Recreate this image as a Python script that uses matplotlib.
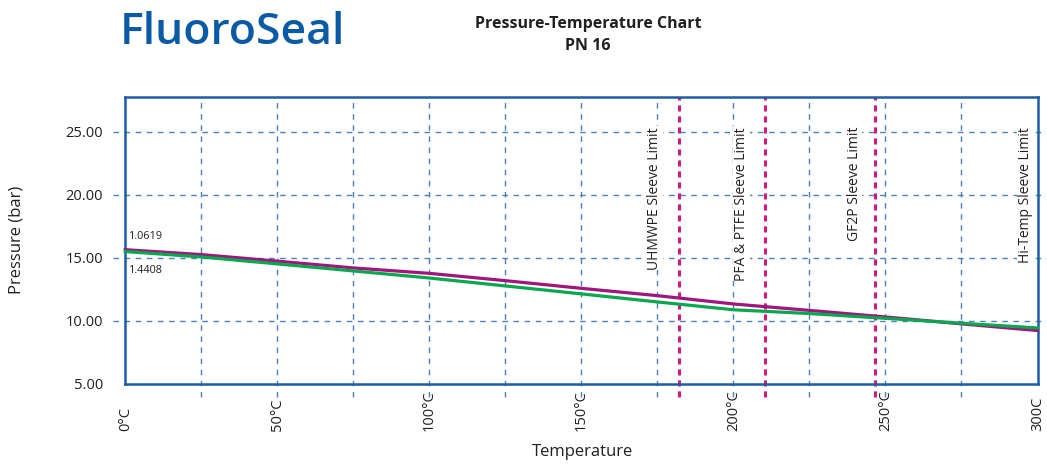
"""FluoroSeal PN 16 pressure-temperature chart."""
import matplotlib
matplotlib.use("Agg")
import matplotlib.pyplot as plt
import matplotlib.transforms as mtrans

# ── data ──────────────────────────────────────────────────────────────────
TEMPS       = [0, 25, 50, 75, 100, 125, 150, 175, 200, 225, 250, 275, 300]
P_MAGENTA   = [15.63, 15.24, 14.72, 14.18, 13.75, 13.17, 12.56, 11.98,
               11.32, 10.81, 10.29, 9.74, 9.21]
P_GREEN     = [15.48, 15.05, 14.50, 13.94, 13.38, 12.75, 12.12, 11.48,
               10.86, 10.56, 10.18, 9.79, 9.42]

LIMIT_TEMPS  = [182.0, 210.5, 246.6]
LIMIT_LABELS = ["UHMWPE Sleeve Limit", "PFA & PTFE Sleeve Limit",
                "GF2P Sleeve Limit", "Hi-Temp Sleeve Limit"]
LABEL_TEMPS  = [174.2, 202.7, 239.7, 296.0]

X_GRID   = [25, 50, 75, 100, 125, 150, 175, 200, 225, 250, 275]
Y_GRID   = [10, 15, 20, 25]
X_TICKS  = [0, 50, 100, 150, 200, 250, 300]
X_LABELS = ["0°C", "50°C", "100°C", "150°C", "200°C", "250°C", "300C"]
Y_TICKS  = [5, 10, 15, 20, 25]

# ── style ─────────────────────────────────────────────────────────────────
BLUE     = "#1b5ea6"
GRID_C   = "#4a80bf"
MAGENTA  = "#a0167e"
GREEN    = "#0aa74f"
LIMIT_C  = "#d01a80"
TEXT_C   = "#231f20"
FONT     = ["Open Sans", "DejaVu Sans"]

plt.rcParams["font.family"] = FONT

W, H = 1047, 466
fig = plt.figure(figsize=(W / 100, H / 100), dpi=100)
ax = fig.add_axes([125.3 / W, 1 - 383.6 / H, (1037.5 - 125.3) / W, (383.6 - 96.7) / H])
ax.set_xlim(0, 300)
ax.set_ylim(5, 27.77)

for s in ax.spines.values():
    s.set_color(BLUE)
    s.set_linewidth(1.8)

# grid lines that run a little past the frame
xt = mtrans.blended_transform_factory(ax.transData, ax.transAxes)
yt = mtrans.blended_transform_factory(ax.transAxes, ax.transData)
for x in X_GRID:
    ax.plot([x, x], [-0.047, 1], transform=xt, color=GRID_C, lw=1.0,
            ls=(0, (4, 4)), clip_on=False, zorder=1)
for y in Y_GRID:
    ax.plot([-0.014, 1.011], [y, y], transform=yt, color=GRID_C, lw=1.0,
            ls=(0, (4, 4)), clip_on=False, zorder=1)

# sleeve limit lines
for x in LIMIT_TEMPS:
    ax.plot([x, x], [-0.047, 1], transform=xt, color=LIMIT_C, lw=2.2,
            ls=(0, (2, 1.6)), clip_on=False, zorder=2)
for x, lab in zip(LABEL_TEMPS, LIMIT_LABELS):
    ax.text(x, 25.37, lab, rotation=90, ha="center", va="top",
            fontsize=10, color=TEXT_C, zorder=4,
            bbox=dict(facecolor="white", edgecolor="none", pad=0.5))

# pressure curves
ax.plot(TEMPS, P_MAGENTA, color=MAGENTA, lw=2.3, zorder=3, clip_on=False)
ax.plot(TEMPS, P_GREEN, color=GREEN, lw=2.3, zorder=3, clip_on=False)
ax.text(1.2, 16.2, "1.0619", fontsize=7.8, color=TEXT_C, va="bottom")
ax.text(1.2, 14.45, "1.4408", fontsize=7.8, color=TEXT_C, va="top")

# ticks
ax.tick_params(length=0)
ax.set_yticks(Y_TICKS)
ax.set_yticklabels([f"{v:.2f}" for v in Y_TICKS], fontsize=10.5, color=TEXT_C)
ax.tick_params(axis="y", pad=16)
ax.set_xticks([])
lab_t = mtrans.blended_transform_factory(ax.transData, fig.transFigure)
for x, lab in zip(X_TICKS, X_LABELS):
    ax.text(x, 1 - 431 / H, lab, transform=lab_t,
            rotation=90, ha="center", va="bottom", fontsize=10.5, color=TEXT_C)

fig.text(583 / W, 1 - 452 / H, "Temperature", ha="center", va="center",
         fontsize=12, color=TEXT_C)
fig.text(17 / W, 1 - 240 / H, "Pressure (bar)", ha="center", va="center",
         rotation=90, fontsize=12, color=TEXT_C)

# header
fig.text(588 / W, 1 - 24 / H, "Pressure-Temperature Chart", ha="center",
         va="center", fontsize=11.5, fontweight="bold", color=TEXT_C)
fig.text(588 / W, 1 - 46 / H, "PN 16", ha="center", va="center",
         fontsize=11.5, fontweight="bold", color=TEXT_C)
fig.text(120 / W, 1 - 33 / H, "FluoroSeal", ha="left", va="center",
         fontsize=32, fontweight="semibold", color="#0a5aa6")

fig.savefig("out.png", dpi=100)
